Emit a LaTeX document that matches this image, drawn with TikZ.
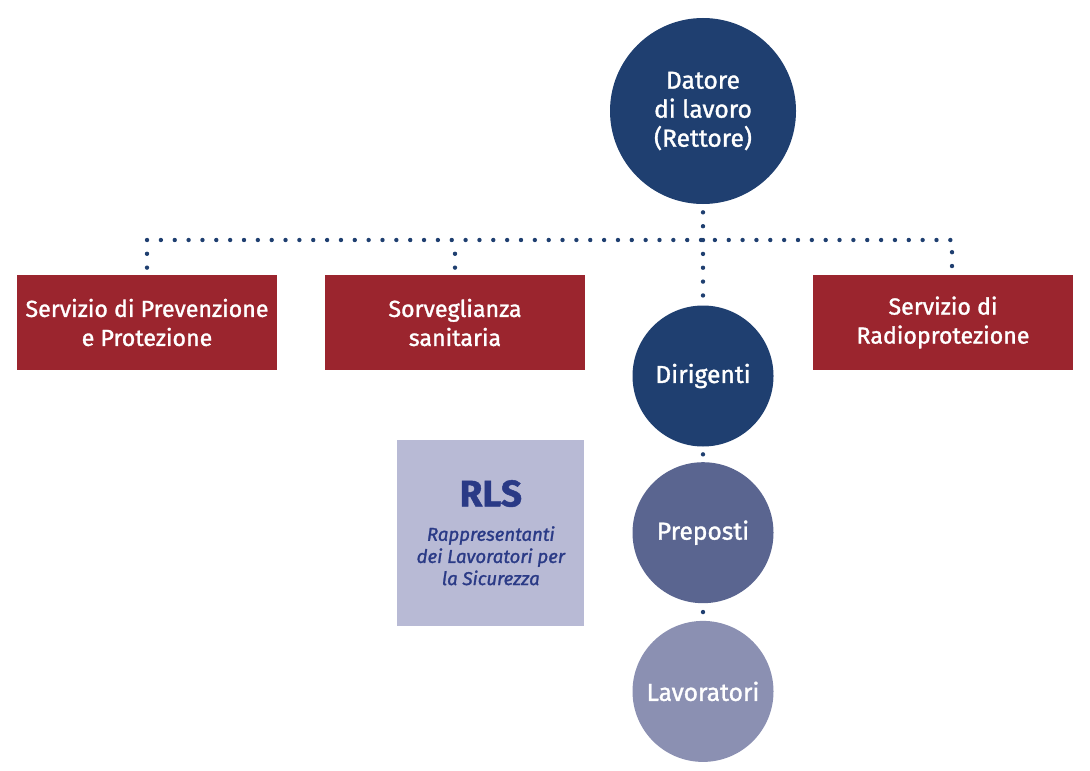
\documentclass[tikz,border=0pt]{standalone}
\usepackage{fontspec}
\setmainfont{Fira Sans}
\newfontfamily\medium{Fira Sans}[FakeBold=1.3]
\usepackage{xcolor}
\usetikzlibrary{positioning,calc}
\definecolor{navy}{HTML}{1F3F70}
\definecolor{brick}{HTML}{9B252E}
\definecolor{slate}{HTML}{5A6590}
\definecolor{haze}{HTML}{8B90B2}
\definecolor{lilac}{HTML}{B8BAD5}
\definecolor{ink}{HTML}{2A3A86}

\begin{document}
\begin{tikzpicture}[
    role/.style={circle, fill=#1, text=white, minimum size=2.82cm, inner sep=0pt, align=center, font=\medium\fontsize{14}{16.5}\selectfont},
    office/.style={rectangle, fill=brick, text=white, minimum width=5.2cm, minimum height=1.9cm, align=center, font=\medium\fontsize{13.2}{16.5}\selectfont},
    rls/.style={rectangle, fill=lilac, text=ink, minimum width=3.74cm, minimum height=3.72cm, align=center, font=\medium\fontsize{10.6}{12.6}\selectfont\itshape},
    dotline/.style={navy, line width=2.5pt, line cap=round, dash pattern=on 0pt off 0.277cm}
]
    \useasboundingbox (0,0) rectangle (21.8,15.4);

    % Datore di lavoro
    \node[role=navy, minimum size=3.72cm] (datore) at (14.06,13.18) {Datore\\di lavoro\\(Rettore)};
    \coordinate (hub) at (14.06,10.60);

    % Servizi
    \node[office] (spp) at (2.94,8.95) {Servizio di Prevenzione\\e Protezione};
    \node[office] (sorv) at (9.10,8.95) {Sorveglianza\\sanitaria};
    \node[office] (rad) at (18.86,8.95) {Servizio di\\Radioprotezione};

    % Linea gerarchica
    \node[role=navy] (dirigenti) at (14.06,7.88) {Dirigenti};
    \node[role=slate, below=0.3cm of dirigenti] (preposti) {Preposti};
    \node[role=haze, below=0.34cm of preposti] (lavoratori) {Lavoratori};

    % RLS
    \node[rls, left=0.95cm of preposti] (rlsbox) {{\fontsize{21}{24}\selectfont\upshape\bfseries RLS}\\[7pt]
        Rappresentanti\\dei Lavoratori per\\la Sicurezza};

    % Collegamenti
    \draw[dotline] ([yshift=0.14cm]spp.north) |- (hub) -| ([xshift=0.18cm,yshift=0.14cm]rad.north);
    \draw[dotline] ([yshift=0.14cm]sorv.north) -- (sorv.north |- hub);
    \draw[dotline, shorten <=0.16cm, shorten >=0.16cm] (datore.south) -- (dirigenti.north);
    \draw[dotline, shorten <=0.15cm, shorten >=0.14cm] (dirigenti.south) -- (preposti.north);
    \draw[dotline, shorten <=0.17cm, shorten >=0.16cm] (preposti.south) -- (lavoratori.north);
\end{tikzpicture}
\end{document}
